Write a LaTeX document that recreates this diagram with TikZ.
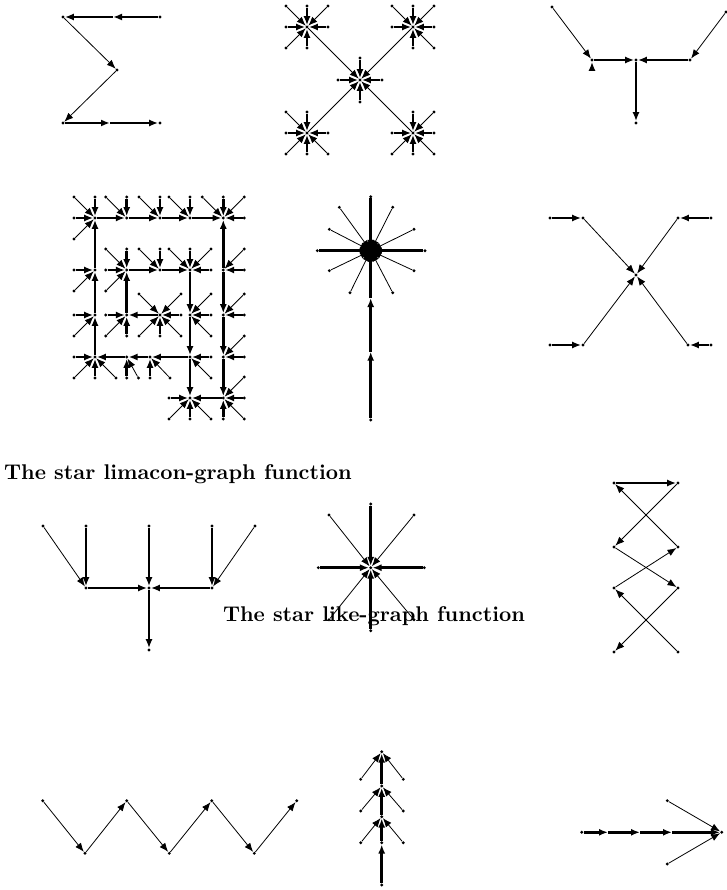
\documentclass[tikz,border=0pt]{standalone}
\usepackage{graphicx}
\usetikzlibrary{arrows.meta,calc}
\tikzset{
  vdot/.style={circle, fill, inner sep=0pt, minimum size=3.2pt},
  thk/.style={line width=2.8pt, -{Latex[length=9pt,width=7pt]}},
  thn/.style={line width=0.8pt, -{Latex[length=9pt,width=7pt]}},
  ttl/.style={inner sep=0pt},
}
% spokes: hub, list of dx/dy/thick (pixel offsets)
\newcommand{\spokes}[2]{%
  \foreach \dx/\dy/\w [count=\k] in {#2} {
    \node[vdot] (#1-\k) at ($(#1)+(\dx,\dy)$) {};
    \ifnum\w=1 \draw[thk] (#1-\k) -- (#1); \else \draw[thn] (#1-\k) -- (#1); \fi
  }}
\begin{document}
\begin{tikzpicture}[x=1pt, y=-1pt]
  \useasboundingbox (0,0) rectangle (726,890);

  % Sigma
  \node[vdot] (s1) at (63,17) {};
  \node[vdot] (s2) at (160,17) {};
  \node[vdot] (sm) at (117,70) {};
  \node[vdot] (s3) at (63,123) {};
  \node[vdot] (s4) at (160,123) {};
  \coordinate (s12) at (113,17);
  \coordinate (s34) at (110,123);
  \draw[thk] (s2) -- (s12);
  \draw[thk] (s12) -- (s1);
  \draw[thn] (s1) -- (sm);
  \draw[thn] (sm) -- (s3);
  \draw[thk] (s3) -- (s34);
  \draw[thk] (s34) -- (s4);

  % X of stars
  \node[vdot] (xc) at (360,80) {};
  \node[vdot] (xtl) at (307,27) {};
  \node[vdot] (xtr) at (413,27) {};
  \node[vdot] (xbl) at (307,133) {};
  \node[vdot] (xbr) at (413,133) {};
  \spokes{xc}{0/-22/1, -22/0/1, 22/0/1, 0/22/1}
  \spokes{xtl}{-21/-21/0, 0/-21/1, 21/-21/0, -21/0/1, 21/0/1, -21/21/0, 0/21/1}
  \spokes{xtr}{-21/-21/0, 0/-21/1, 21/-21/0, -21/0/1, 21/0/1, 0/21/1, 21/21/0}
  \spokes{xbl}{-21/-21/0, 0/-21/1, -21/0/1, 21/0/1, -21/21/0, 0/21/1, 21/21/0}
  \spokes{xbr}{0/-21/1, 21/-21/0, -21/0/1, 21/0/1, -21/21/0, 0/21/1, 21/21/0}
  \foreach \n in {xtl,xtr,xbl,xbr} \draw[thn] (\n) -- (xc);

  % T shape
  \node[vdot] (y1) at (552,7) {};
  \node[vdot] (y2) at (726,12) {};
  \node[vdot] (yl) at (592,60) {};
  \node[vdot] (yc) at (636,60) {};
  \node[vdot] (yr) at (690,60) {};
  \node[vdot] (yb) at (636,123) {};
  \coordinate (yx) at (592,71);
  \draw[thn] (y1) -- (yl);
  \draw[thn] (y2) -- (yr);
  \draw[thk] (yl) -- (yc);
  \draw[thk] (yr) -- (yc);
  \draw[thk] (yc) -- (yb);
  \draw[thk] (yx) -- (yl);

  % spiral grid
  \foreach \n/\x/\y in {n1/95/218, n2/126.7/218, n3/160/218, n4/190/218, n5/223.3/218,
      l2/95/270, m1/126.7/270, m2/160/270, m3/190/270, r2/223.3/270,
      l3/95/315, m4/126.7/315, c0/160/315, m5/190/315, r3/223.3/315,
      l4/95/357, d2/126.7/357, d3/150/357, d4/190/357, r4/223.3/357,
      e1/190/398, r5/223.3/398}
    \node[vdot] (\n) at (\x,\y) {};
  \spokes{n1}{-21/-21/0, 0/-21/1, -21/0/1, -21/21/0}
  \spokes{n2}{-21/-21/0, 0/-21/1}
  \spokes{n3}{-21/-21/0, 0/-21/1}
  \spokes{n4}{-21/-21/0, 0/-21/1}
  \spokes{n5}{-21/-21/0, 0/-21/1, 21/-21/0, 21/0/1}
  \spokes{l2}{-21/0/1, -21/21/0}
  \spokes{m1}{-21/-21/0, 0/-21/1, -21/0/1, -21/21/0}
  \spokes{m2}{-21/-21/0, 0/-21/1}
  \spokes{m3}{-21/-21/0, 0/-21/1, 21/-21/0, 21/0/1}
  \spokes{r2}{21/-21/0, 21/0/1}
  \spokes{l3}{-21/0/1, -21/21/0}
  \spokes{m4}{-21/0/1, -21/21/0, 0/21/1}
  \spokes{c0}{-21/-21/0, 21/-21/0, 21/0/1, -21/21/0, 0/21/1, 21/21/0}
  \spokes{m5}{21/-21/0, 21/0/1, 21/21/0}
  \spokes{r3}{21/-21/0, 21/0/1}
  \spokes{l4}{-21/0/1, -21/21/0, 0/21/1, 21/21/0}
  \spokes{d2}{0/21/1, 11.7/21/0}
  \spokes{d3}{0/21/1, 20/21/0}
  \spokes{d4}{21/0/1, 21/21/0}
  \spokes{r4}{21/-21/0, 21/0/1}
  \spokes{e1}{-21/0/1, -21/21/0, 0/21/1, 21/21/0}
  \spokes{r5}{21/-21/0, 21/0/1, 0/21/1, 21/21/0}
  \draw[thk] (n1) -- (n2);
  \draw[thk] (n2) -- (n3);
  \draw[thk] (n3) -- (n4);
  \draw[thk] (n4) -- (n5);
  \draw[thk] (l2) -- (n1);
  \draw[thk] (l3) -- (l2);
  \draw[thk] (l4) -- (l3);
  \draw[thk] (r2) -- (n5);
  \draw[thk] (r2) -- (r3);
  \draw[thk] (r3) -- (r4);
  \draw[thk] (r4) -- (r5);
  \draw[thk] (m1) -- (m2);
  \draw[thk] (m2) -- (m3);
  \draw[thk] (m4) -- (m1);
  \draw[thk] (c0) -- (m4);
  \draw[thk] (m3) -- (m5);
  \draw[thk] (m5) -- (d4);
  \draw[thk] (d4) -- (e1);
  \draw[thk] (d4) -- (d3);
  \draw[thk] (d3) -- (d2);
  \draw[thk] (d2) -- (l4);
  \draw[thk] (r5) -- (e1);

  % dandelion
  \node[vdot] (dh) at (370.7,250.7) {};
  \node[vdot] (db) at (370.7,420) {};
  \coordinate (dm1) at (370.7,351.7);
  \coordinate (dm2) at (370.7,298);
  \spokes{dh}{0/-54/1, -53.4/0/1, 54.3/0/1, -31.4/-43.4/0, 22/-43.4/0, -41.4/-21.4/0,
    43.3/-21.4/0, -41.4/20/0, 43.3/20/0, -20.7/42/0, 22/42/0}
  \draw[thk] (db) -- (dm1);
  \draw[thk] (dm1) -- (dm2);
  \draw[thk] (dm2) -- (dh);
  \node[circle, fill, inner sep=0pt, minimum size=19pt] (dhb) at (dh) {};

  % X with arrows
  \node[vdot] (k1) at (550,218) {};
  \node[vdot] (k2) at (583,218) {};
  \node[vdot] (k3) at (678,218) {};
  \node[vdot] (k4) at (711,218) {};
  \node[vdot] (k5) at (550,345) {};
  \node[vdot] (k6) at (583,345) {};
  \node[vdot] (k7) at (688,345) {};
  \node[vdot] (k8) at (711,345) {};
  \node[vdot] (kc) at (636,275) {};
  \draw[thk] (k1) -- (k2);
  \draw[thk] (k4) -- (k3);
  \draw[thk] (k5) -- (k6);
  \draw[thk] (k8) -- (k7);
  \foreach \n in {k2,k3,k6,k7} \draw[thn] (\n) -- (kc);

  \node[ttl, anchor=west] (t1) at (4,474) {\scalebox{2.13}{\bfseries The star limacon-graph function}};

  % trident
  \node[vdot] (p1) at (43,526) {};
  \node[vdot] (p2) at (86,526) {};
  \node[vdot] (p3) at (149,526) {};
  \node[vdot] (p4) at (212,526) {};
  \node[vdot] (p5) at (255,526) {};
  \node[vdot] (pl) at (86,588) {};
  \node[vdot] (pc) at (149,588) {};
  \node[vdot] (pr) at (212,588) {};
  \node[vdot] (pb) at (149,650) {};
  \draw[thn] (p1) -- (pl);
  \draw[thk] (p2) -- (pl);
  \draw[thk] (p3) -- (pc);
  \draw[thk] (p4) -- (pr);
  \draw[thn] (p5) -- (pr);
  \draw[thk] (pl) -- (pc);
  \draw[thk] (pr) -- (pc);
  \draw[thk] (pc) -- (pb);

  % star
  \node[vdot] (q) at (370.7,567.7) {};
  \spokes{q}{0/-63.7/1, -52.4/0/1, 53.6/0/1, -41.7/-52.7/0, 43.3/-52.7/0,
    -41.7/52/0, 43.3/52/0, 0/63/1}

  % crossing zigzag
  \node[vdot] (z1) at (614,483) {};
  \node[vdot] (z2) at (678,483) {};
  \node[vdot] (z3) at (614,547) {};
  \node[vdot] (z4) at (678,547) {};
  \node[vdot] (z5) at (614,588) {};
  \node[vdot] (z6) at (678,588) {};
  \node[vdot] (z7) at (614,652) {};
  \node[vdot] (z8) at (678,652) {};
  \draw[thk] (z1) -- (z2);
  \draw[thn] (z2) -- (z3);
  \draw[thn] (z3) -- (z6);
  \draw[thn] (z5) -- (z4);
  \draw[thn] (z4) -- (z1);
  \draw[thn] (z8) -- (z5);
  \draw[thn] (z6) -- (z7);

  \node[ttl] (t2) at (374,616) {\scalebox{2.13}{\bfseries The star like-graph function}};

  % W zigzag
  \foreach \n/\x/\y in {w1/42.7/800.7, w2/85/853.3, w3/126.7/800.7, w4/169.3/853.3,
      w5/211.7/800.7, w6/254.3/853.3, w7/296.7/800.7}
    \node[vdot] (\n) at (\x,\y) {};
  \foreach \a/\b in {w1/w2, w2/w3, w3/w4, w4/w5, w5/w6, w6/w7}
    \draw[thn] (\a) -- (\b);

  % tree
  \node[vdot] (h1) at (381.7,751.7) {};
  \node[vdot] (h2) at (381.7,786) {};
  \node[vdot] (h3) at (381.7,816.7) {};
  \node[vdot] (h4) at (381.7,842.7) {};
  \node[vdot] (hb) at (381.7,885) {};
  \draw[thk] (hb) -- (h4);
  \draw[thk] (h4) -- (h3);
  \draw[thk] (h3) -- (h2);
  \draw[thk] (h2) -- (h1);
  \spokes{h1}{-21/27.6/0, 21.6/27.6/0}
  \spokes{h2}{-21/25/0, 21.6/25/0}
  \spokes{h3}{-21/26/0, 21.6/26/0}

  % arrow
  \node[vdot] (a1) at (581.7,832.3) {};
  \node[vdot] (a2) at (721.7,832.3) {};
  \node[vdot] (a3) at (667.3,800.7) {};
  \node[vdot] (a4) at (667.3,864) {};
  \coordinate (ag1) at (608,832.3);
  \coordinate (ag2) at (640,832.3);
  \coordinate (ag3) at (672,832.3);
  \draw[thk] (a1) -- (ag1);
  \draw[thk] (ag1) -- (ag2);
  \draw[thk] (ag2) -- (ag3);
  \draw[thk] (ag3) -- (a2);
  \draw[thn] (a3) -- (a2);
  \draw[thn] (a4) -- (a2);
\end{tikzpicture}
\end{document}
